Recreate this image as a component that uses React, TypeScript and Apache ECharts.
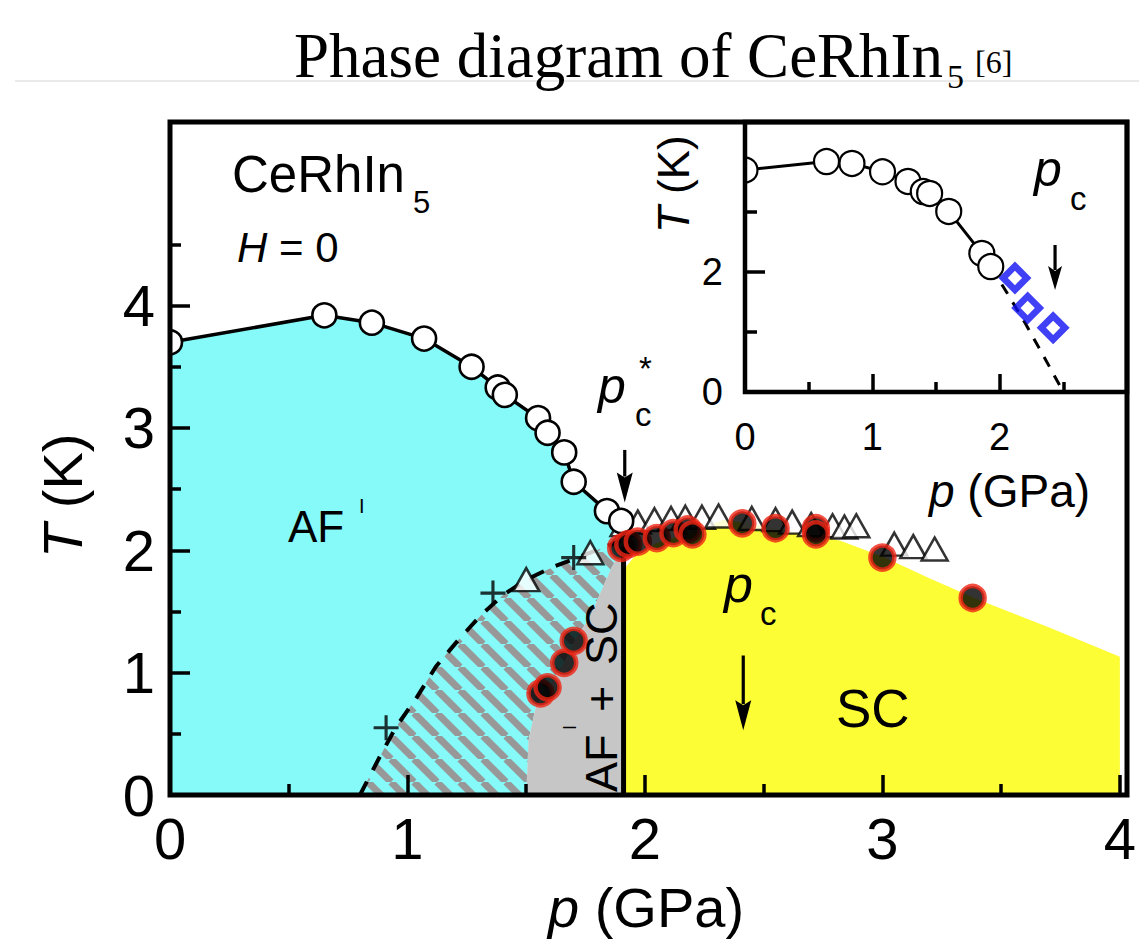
import React, { useEffect, useRef } from 'react';
import * as echarts from 'echarts';

// ---------- data ----------
const mainXTicks = [0, 1, 2, 3, 4];
const mainXLabels = [0, 1, 2, 3, 4];
const mainXMinor = [0.5, 1.5, 2.5, 3.5];
const mainYTicks = [0, 1, 2, 3, 4];
const mainYLabels = [0, 1, 2, 3, 4];
const mainYMinor = [0.5, 1.5, 2.5, 3.5, 4.5];

const insetXLabels = [0, 1, 2];
const insetXTicks = [1, 2];
const insetXMinor = [0.5, 1.5, 2.5];
const insetYLabels = [0, 2];
const insetYTicks = [2];
const insetYMinor = [1, 3];

// AF transition (open circles), p in GPa, T in K
const afCircles = [
  [0.0, 3.7], [0.65, 3.92], [0.85, 3.86], [1.07, 3.73], [1.27, 3.5], [1.38, 3.33],
  [1.41, 3.27], [1.55, 3.08], [1.59, 2.96], [1.66, 2.8], [1.7, 2.56], [1.84, 2.32], [1.9, 2.24],
];
// dashed AF boundary inside SC region
const afDashed = [
  [0.8, 0.0], [0.88, 0.3], [0.95, 0.55], [1.04, 0.8], [1.12, 1.05], [1.22, 1.28], [1.31, 1.47],
  [1.4, 1.63], [1.5, 1.76], [1.62, 1.87], [1.77, 1.98], [1.9, 2.08],
];
// left boundary of the AF + SC (grey) region
const greyBoundary = [
  [1.5, 0.0], [1.51, 0.45], [1.54, 0.72], [1.58, 0.84], [1.66, 1.08], [1.71, 1.28], [1.77, 1.46],
  [1.83, 1.73], [1.86, 1.86], [1.9, 2.0],
];
// upper boundary of the SC (yellow) region
const yellowTop = [
  [1.91, 1.84], [1.96, 1.96], [2.05, 2.06], [2.2, 2.15], [2.33, 2.25], [2.5, 2.2], [2.65, 2.14],
  [2.82, 2.08], [3.0, 1.95], [3.2, 1.77], [3.4, 1.6], [3.7, 1.37], [4.0, 1.13],
];
const pcLine = [[1.91, 0], [1.91, 2.03]];
// Tc (filled circles)
const scUpper = [
  [1.9, 2.02], [1.93, 2.05], [1.97, 2.07], [2.05, 2.1], [2.12, 2.14], [2.18, 2.17], [2.2, 2.13],
  [2.41, 2.22], [2.55, 2.18], [2.72, 2.18], [2.72, 2.13], [3.0, 1.94], [3.38, 1.61],
];
const scLower = [[1.56, 0.83], [1.59, 0.88], [1.66, 1.08], [1.7, 1.26]];
// open triangles
const triangles = [
  [1.5, 1.76], [1.77, 1.98], [1.91, 2.21], [1.97, 2.23], [2.04, 2.25], [2.11, 2.26], [2.17, 2.27],
  [2.24, 2.27], [2.31, 2.28], [2.45, 2.26], [2.55, 2.25], [2.62, 2.23], [2.7, 2.21], [2.79, 2.2],
  [2.84, 2.19], [2.89, 2.2], [3.05, 2.05], [3.13, 2.03], [3.22, 2.01],
];
const crosses = [[0.91, 0.55], [1.36, 1.65], [1.7, 1.94]];
// arrows: [p, T start, T tip]
const pcStarArrow = [1.915, 2.82, 2.39];
const pcArrow = [2.414, 1.14, 0.53];

// inset
const insetCircles = [
  [0.0, 3.7], [0.64, 3.84], [0.84, 3.81], [1.08, 3.67], [1.28, 3.51], [1.4, 3.34], [1.45, 3.31],
  [1.6, 3.01], [1.86, 2.31], [1.93, 2.09],
];
const insetDashed = [[1.93, 2.09], [2.05, 1.68], [2.2, 1.15], [2.35, 0.58], [2.5, 0.0]];
const insetDiamonds = [[2.12, 1.9], [2.22, 1.4], [2.42, 1.07]];
const insetPcArrow = [2.435, 2.45, 1.7];

// ---------- styles ----------
const SANS = '"Liberation Sans", Arial, Helvetica, sans-serif';
const SERIF = '"Liberation Serif", "Times New Roman", serif';
const CYAN = '#86f9f9';
const YELLOW = '#fdfd36';
const GREY = '#c6c6c6';
const STRIPE = '#989898';
const RED = '#ee2414';
const BLUE = '#1010f4';
const DIAMOND_RING = 'path://M15,0 L30,15 L15,30 L0,15 Z M15,8.5 L8.5,15 L15,21.5 L21.5,15 Z';

function txt(text: string, x: number, base: number, size: number, o: any = {}) {
  const fam = o.serif ? SERIF : SANS;
  return {
    type: 'text',
    x,
    y: base - (o.serif ? 0.3375 : 0.3465) * size,
    z: 100,
    silent: true,
    style: {
      text,
      fontSize: size,
      fontFamily: fam,
      fontStyle: o.italic ? 'italic' : 'normal',
      fill: '#000',
      align: o.align || 'left',
      verticalAlign: 'middle',
    },
  };
}

function makeHatch() {
  const s = 23;
  const c = document.createElement('canvas');
  c.width = s;
  c.height = s;
  const g = c.getContext('2d') as CanvasRenderingContext2D;
  g.fillStyle = CYAN;
  g.fillRect(0, 0, s, s);
  g.strokeStyle = STRIPE;
  g.lineWidth = 7;
  for (const o of [-s, 0, s]) {
    g.beginPath();
    g.moveTo(o, 0);
    g.lineTo(o + s, s);
    g.stroke();
  }
  return { image: c, repeat: 'repeat', imageWidth: s, imageHeight: s };
}

function polySeries(points: number[][], fill: any, z: number) {
  return {
    type: 'custom',
    xAxisIndex: 0,
    yAxisIndex: 0,
    clip: true,
    silent: true,
    z,
    data: [points[0]],
    renderItem: (_p: any, api: any) => ({
      type: 'polygon',
      shape: { points: points.map((pt) => api.coord(pt)) },
      style: { fill, stroke: 'none' },
    }),
  };
}

function openCircleSeries(data: number[][], ax: number, r: number, lw: number) {
  return {
    type: 'custom',
    xAxisIndex: ax,
    yAxisIndex: ax,
    clip: true,
    silent: true,
    z: 5,
    data,
    renderItem: (_p: any, api: any) => {
      const c = api.coord([api.value(0), api.value(1)]);
      return {
        type: 'circle',
        shape: { cx: c[0], cy: c[1], r },
        style: { fill: '#fff', stroke: '#000', lineWidth: lw },
      };
    },
  };
}

function arrowSeries(arrows: number[][], ax: number, headLen: number, headW: number) {
  return {
    type: 'custom',
    xAxisIndex: ax,
    yAxisIndex: ax,
    clip: false,
    silent: true,
    z: 8,
    data: arrows,
    renderItem: (_p: any, api: any) => {
      const a = api.coord([api.value(0), api.value(1)]);
      const b = api.coord([api.value(0), api.value(2)]);
      return {
        type: 'group',
        children: [
          {
            type: 'line',
            shape: { x1: a[0], y1: a[1], x2: b[0], y2: b[1] - headLen + 4 },
            style: { stroke: '#000', lineWidth: 3.2 },
          },
          {
            type: 'polygon',
            shape: {
              points: [
                [b[0] - headW, b[1] - headLen],
                [b[0], b[1] - headLen + 5],
                [b[0] + headW, b[1] - headLen],
                [b[0], b[1]],
              ],
            },
            style: { fill: '#000' },
          },
        ],
      };
    },
  };
}

function lineSeries(data: number[][], ax: number, width: number, type: any) {
  return {
    type: 'line',
    xAxisIndex: ax,
    yAxisIndex: ax,
    data,
    symbol: 'none',
    showSymbol: false,
    clip: true,
    silent: true,
    z: 3,
    lineStyle: { color: '#000', width, type },
  };
}

function axis(kind: 'x' | 'y', gridIndex: number, min: number, max: number, ticks: number[], labels: number[], tickLen: number, fontSize: number, margin: number) {
  return {
    type: 'value',
    gridIndex,
    min,
    max,
    z: 10,
    position: kind === 'x' ? 'bottom' : 'left',
    offset: 0,
    axisLine: { show: false },
    splitLine: { show: false },
    axisTick: {
      show: true,
      inside: true,
      length: tickLen,
      customValues: ticks,
      lineStyle: { color: '#000', width: 3.5 },
    },
    axisLabel: labels.length
      ? { show: true, customValues: labels, fontSize, fontFamily: SANS, color: '#000', margin }
      : { show: false },
  };
}

export default function App() {
  const ref = useRef<HTMLDivElement>(null);
  useEffect(() => {
    document.body.style.margin = '0';
    if (!ref.current) return;
    const chart = echarts.init(ref.current, undefined, { renderer: 'svg' });

    const cyanPoly = [[0, 0], ...afCircles, ...greyBoundary.slice().reverse()];
    const hatchPoly = [...afDashed, ...greyBoundary.slice().reverse()];
    const greyPoly = [...greyBoundary, [pcLine[1][0], pcLine[1][1]], [pcLine[0][0], 0]];
    const yellowPoly = [[yellowTop[0][0], 0], ...yellowTop, [4, 0]];

    const graphic: any[] = [
      // title
      { type: 'line', shape: { x1: 15, y1: 81, x2: 1139, y2: 81 }, style: { stroke: '#d4d4d4', lineWidth: 1 }, z: 99, silent: true },
      txt('Phase diagram of CeRhIn', 294, 77, 63, { serif: true }),
      txt('5', 947, 88, 34, { serif: true }),
      txt('[6]', 975, 73, 32, { serif: true }),
      // frames
      { type: 'rect', shape: { x: 170, y: 122, width: 957, height: 673 }, style: { fill: 'none', stroke: '#000', lineWidth: 5 }, z: 100, silent: true },
      { type: 'rect', shape: { x: 745, y: 122, width: 382, height: 270 }, style: { fill: 'none', stroke: '#000', lineWidth: 4.5 }, z: 100, silent: true },
      // main labels
      txt('CeRhIn', 232, 192, 51),
      txt('5', 413, 213, 31),
      txt('H', 237, 262, 42, { italic: true }),
      txt(' = 0', 237 + 0.722 * 42, 262, 42),
      txt('AF', 288, 542, 44),
      txt('I', 359, 513, 20),
      txt('SC', 836, 727, 53),
      txt('p', 724, 602, 52, { italic: true }),
      txt('c', 760, 625, 33),
      txt('p', 598, 403, 50, { italic: true }),
      txt('c', 635, 426, 33),
      txt('*', 639, 380, 33),
      // rotated AF^I + SC
      {
        type: 'group', x: 617, y: 792, rotation: Math.PI / 2, z: 100, silent: true,
        children: [
          txt('AF', 0, 0, 45),
          txt('I', 62, -41, 18),
          txt('+', 80, 0, 45),
          txt('SC', 127, 0, 45),
        ],
      },
      // main axis titles
      txt('p', 548, 927, 56, { italic: true }),
      txt('(GPa)', 548 + 0.834 * 56, 927, 56),
      {
        type: 'group', x: 82, y: 558, rotation: Math.PI / 2, z: 100, silent: true,
        children: [txt('T', 0, 0, 56, { italic: true }), txt('(K)', 0.889 * 56, 0, 56)],
      },
      // inset labels
      txt('p', 1034, 186, 50, { italic: true }),
      txt('c', 1070, 210, 33),
      txt('p', 929, 507, 46, { italic: true }),
      txt('(GPa)', 929 + 0.834 * 46, 507, 46),
      {
        type: 'group', x: 689, y: 233, rotation: Math.PI / 2, z: 100, silent: true,
        children: [txt('T', 0, 0, 44, { italic: true }), txt('(K)', 0.889 * 44, 0, 44)],
      },
    ];

    const option: any = {
      animation: false,
      backgroundColor: '#fff',
      grid: [
        { left: 170, top: 122, width: 957, height: 673, show: false },
        { left: 745, top: 122, width: 382, height: 270, show: false },
      ],
      xAxis: [
        axis('x', 0, 0, 4, mainXTicks, mainXLabels, 20, 58, 14),
        axis('x', 0, 0, 4, mainXMinor, [], 11, 58, 14),
        axis('x', 1, 0, 3, insetXTicks, insetXLabels, 18, 38, 26),
        axis('x', 1, 0, 3, insetXMinor, [], 10, 38, 26),
      ],
      yAxis: [
        axis('y', 0, 0, 5.5, mainYTicks, mainYLabels, 20, 58, 15),
        axis('y', 0, 0, 5.5, mainYMinor, [], 11, 58, 15),
        axis('y', 1, 0, 4.5, insetYTicks, insetYLabels, 20, 38, 22),
        axis('y', 1, 0, 4.5, insetYMinor, [], 12, 38, 22),
      ],
      graphic,
      series: [
        polySeries(cyanPoly, CYAN, 1),
        polySeries(hatchPoly, makeHatch(), 1),
        polySeries(greyPoly, GREY, 1),
        polySeries(yellowPoly, YELLOW, 1),
        lineSeries(pcLine, 0, 5, 'solid'),
        lineSeries(afCircles, 0, 3.5, 'solid'),
        lineSeries(afDashed, 0, 4, [15, 13]),
        {
          type: 'scatter', xAxisIndex: 0, yAxisIndex: 0, data: triangles, symbol: 'triangle',
          symbolSize: [26, 23], silent: true, z: 4,
          itemStyle: { color: '#fff', borderColor: '#000', borderWidth: 2.5 },
        },
        {
          type: 'scatter', xAxisIndex: 0, yAxisIndex: 0, data: crosses,
          symbol: 'path://M10.5,0 H13.5 V24 H10.5 Z M0,10.5 H24 V13.5 H0 Z',
          symbolSize: 25, silent: true, z: 4, itemStyle: { color: '#000' },
        },
        openCircleSeries(afCircles, 0, 12, 2.6),
        {
          type: 'scatter', xAxisIndex: 0, yAxisIndex: 0, data: [...scLower, ...scUpper], symbol: 'circle',
          symbolSize: 24, silent: true, z: 6,
          itemStyle: { color: '#000', borderColor: RED, borderWidth: 4.5 },
        },
        arrowSeries([pcStarArrow, pcArrow], 0, 30, 8),
        // inset
        lineSeries(insetCircles, 2, 3, 'solid'),
        lineSeries(insetDashed, 2, 3, [11, 10]),
        openCircleSeries(insetCircles, 2, 12.5, 2.2),
        {
          type: 'scatter', xAxisIndex: 2, yAxisIndex: 2, data: insetDiamonds, symbol: DIAMOND_RING,
          symbolSize: 33, silent: true, z: 6,
          itemStyle: { color: BLUE },
        },
        arrowSeries([insetPcArrow], 2, 24, 7),
      ],
    };
    chart.setOption(option);
    return () => chart.dispose();
  }, []);
  return <div ref={ref} style={{ width: 1139, height: 946 }} />;
}
